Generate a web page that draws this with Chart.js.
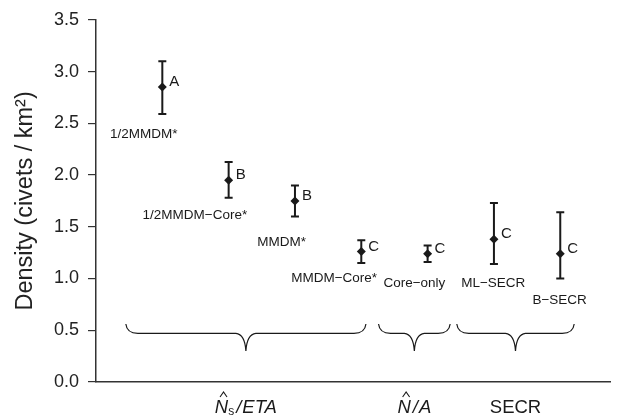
<!DOCTYPE html>
<html>
<head>
<meta charset="utf-8">
<script src="https://cdn.jsdelivr.net/npm/chart.js@4/dist/chart.umd.min.js"></script>
<style>
html,body{margin:0;padding:0;background:#fff;}
canvas{display:block;}
</style>
</head>
<body>
<canvas id="c" width="628" height="419"></canvas>
<script>
// ---- data ----
const categories = ['1/2MMDM*', '1/2MMDM\u2212Core*', 'MMDM*', 'MMDM\u2212Core*', 'Core\u2212only', 'ML\u2212SECR', 'B\u2212SECR'];
const density = [2.85, 1.95, 1.75, 1.26, 1.24, 1.38, 1.24];
const lowerCI = [2.59, 1.78, 1.60, 1.15, 1.16, 1.14, 1.00];
const upperCI = [3.10, 2.125, 1.90, 1.37, 1.32, 1.73, 1.64];
const letters = ['A', 'B', 'B', 'C', 'C', 'C', 'C'];
// annotation anchors (data units) for method names
const labelX = [0.72, 1.49, 2.80, 3.59, 4.80, 5.99, 6.99];
const labelY = [2.39, 1.61, 1.35, 1.00, 0.955, 0.95, 0.79];
// method groups
const groupNames = ['Ns/ETA', 'N/A', 'SECR'];
const groupStart = [0.45, 4.26, 5.44];
const groupEnd = [4.07, 5.34, 7.21];
const yTicks = [0, 0.5, 1.0, 1.5, 2.0, 2.5, 3.0, 3.5];

const FONT = '"Liberation Sans", Arial, Helvetica, sans-serif';
const INK = '#1a1a1a';

const annotate = {
  id: 'annotate',
  afterDatasetsDraw(chart) {
    const ctx = chart.ctx;
    const xs = chart.scales.x, ys = chart.scales.y;
    ctx.save();
    // error bars
    ctx.strokeStyle = INK;
    ctx.lineWidth = 2;
    for (let i = 0; i < density.length; i++) {
      const px = xs.getPixelForValue(i + 1);
      const lo = ys.getPixelForValue(lowerCI[i]);
      const hi = ys.getPixelForValue(upperCI[i]);
      ctx.beginPath();
      ctx.moveTo(px, lo); ctx.lineTo(px, hi);
      ctx.moveTo(px - 4, lo); ctx.lineTo(px + 4, lo);
      ctx.moveTo(px - 4, hi); ctx.lineTo(px + 4, hi);
      ctx.stroke();
    }
    // letters
    ctx.fillStyle = INK;
    ctx.font = '15px ' + FONT;
    ctx.textAlign = 'left';
    ctx.textBaseline = 'middle';
    for (let i = 0; i < letters.length; i++) {
      const px = xs.getPixelForValue(i + 1);
      const py = ys.getPixelForValue(density[i]);
      ctx.fillText(letters[i], px + 7, py - 5);
    }
    // method names
    ctx.font = '13.5px ' + FONT;
    ctx.textAlign = 'center';
    for (let i = 0; i < categories.length; i++) {
      ctx.fillText(categories[i], xs.getPixelForValue(labelX[i]), ys.getPixelForValue(labelY[i]));
    }
    // braces
    ctx.lineWidth = 1.2;
    const yTop = ys.getPixelForValue(0.56), yLine = ys.getPixelForValue(0.47), yTip = ys.getPixelForValue(0.30);
    for (let g = 0; g < groupNames.length; g++) {
      const x0 = xs.getPixelForValue(groupStart[g]);
      const x1 = xs.getPixelForValue(groupEnd[g]);
      const xc = (x0 + x1) / 2;
      ctx.beginPath();
      ctx.moveTo(x0, yTop);
      ctx.quadraticCurveTo(x0 + 1, yLine, x0 + 12, yLine);
      ctx.lineTo(xc - 10, yLine);
      ctx.quadraticCurveTo(xc - 1, yLine + 1, xc, yTip);
      ctx.quadraticCurveTo(xc + 1, yLine + 1, xc + 10, yLine);
      ctx.lineTo(x1 - 12, yLine);
      ctx.quadraticCurveTo(x1 - 1, yLine, x1, yTop);
      ctx.stroke();
    }
    // group labels
    const gy = 408;
    ctx.textBaseline = 'middle';
    ctx.textAlign = 'left';
    const drawParts = (cx, parts) => {
      let total = 0;
      for (const p of parts) { ctx.font = p.f; total += ctx.measureText(p.t).width + (p.gap || 0); }
      let x = cx - total / 2;
      for (const p of parts) {
        ctx.font = p.f;
        const w = ctx.measureText(p.t).width;
        ctx.fillText(p.t, x, gy + (p.dy || 0));
        if (p.hat) {
          ctx.beginPath();
          ctx.lineWidth = 1.1;
          const hx = x + w / 2 + 2;
          ctx.moveTo(hx - 3.5, gy - 11);
          ctx.lineTo(hx, gy - 16);
          ctx.lineTo(hx + 3.5, gy - 11);
          ctx.stroke();
        }
        x += w + (p.gap || 0);
      }
    };
    const it = 'italic 18.5px ' + FONT, up = '18.5px ' + FONT, sm = '12px ' + FONT;
    const centers = groupNames.map((_, g) => xs.getPixelForValue((groupStart[g] + groupEnd[g]) / 2));
    drawParts(centers[0], [{t: 'N', f: it, hat: true}, {t: 's', f: sm, dy: 4, gap: 2}, {t: '/', f: it, gap: 1}, {t: 'ETA', f: it}]);
    drawParts(centers[1], [{t: 'N', f: it, hat: true, gap: 2}, {t: '/', f: it, gap: 1}, {t: 'A', f: it}]);
    drawParts(centers[2], [{t: 'SECR', f: up}]);
    ctx.restore();
  }
};

new Chart(document.getElementById('c'), {
  type: 'scatter',
  data: {
    datasets: [{
      data: density.map((v, i) => ({x: i + 1, y: v})),
      pointStyle: 'rectRot',
      pointRadius: 4.5,
      backgroundColor: INK,
      borderColor: INK,
      borderWidth: 0
    }]
  },
  options: {
    responsive: false,
    animation: false,
    devicePixelRatio: 1,
    layout: {padding: {top: 19, right: 18, left: 0, bottom: 0}},
    plugins: {legend: {display: false}, tooltip: {enabled: false}},
    scales: {
      x: {
        type: 'linear', min: 0, max: 7.75,
        grid: {display: false, drawTicks: false},
        border: {display: true, color: '#333', width: 1.5},
        ticks: {display: false},
        afterFit(s) { s.height = 37; }
      },
      y: {
        min: 0, max: 3.5,
        afterBuildTicks(s) { s.ticks = yTicks.map(v => ({value: v})); },
        ticks: {
          callback: v => Number(v).toFixed(1),
          font: {size: 18, family: FONT},
          color: '#222',
          padding: 9
        },
        grid: {drawOnChartArea: false, drawTicks: true, tickLength: 8, color: '#333', lineWidth: 1.2},
        border: {display: true, color: '#333', width: 1.5},
        title: {
          display: true,
          text: 'Density (civets / km\u00b2)',
          font: {size: 23.5, family: FONT},
          color: '#222',
          padding: {top: 11, bottom: 4}
        },
        afterFit(s) { s.width = 96; }
      }
    }
  },
  plugins: [annotate]
});
</script>
</body>
</html>
